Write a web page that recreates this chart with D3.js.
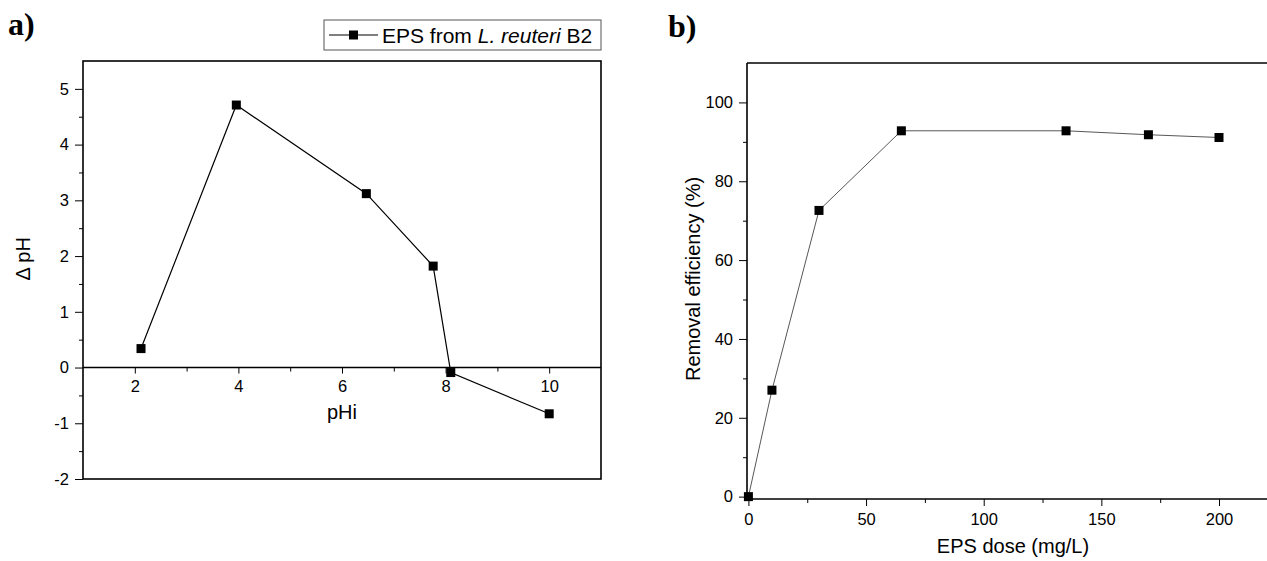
<!DOCTYPE html>
<html>
<head>
<meta charset="utf-8">
<script src="https://d3js.org/d3.v7.min.js"></script>
<title>EPS charts</title>
<style>
body { margin: 0; background: #fff; }
text { font-family: "Liberation Sans", Arial, sans-serif; }
</style>
</head>
<body>
<svg id="canvas" width="1267" height="561"></svg>
<script>
// panel a: initial pH vs delta pH
var phInitial = [2.12, 3.96, 6.47, 7.76, 8.1, 10];
var deltaPh = [0.34, 4.71, 3.12, 1.82, -0.09, -0.83];
var phTicks = [2, 4, 6, 8, 10];
var deltaTicks = [-2, -1, 0, 1, 2, 3, 4, 5];
var legendLabel = ["EPS from ", "L. reuteri", " B2"];

// panel b: dose vs removal efficiency
var epsDose = [0, 10, 30, 65, 135, 170, 200];
var removal = [0, 27, 72.6, 92.8, 92.8, 91.8, 91.1];
var doseTicks = [0, 50, 100, 150, 200];
var removalTicks = [0, 20, 40, 60, 80, 100];

var svg = d3.select("#canvas");
var plain = d => String(d);   // keep a hyphen for negatives like the original

// ---------- panel a ----------
var xa = d3.scaleLinear().domain([1, 11]).range([83, 601]);
var ya = d3.scaleLinear().domain([-2, 5.5]).range([479, 61]);

var ga = svg.append("g");

// minor ticks on y
ga.append("g").attr("transform", "translate(83,0)")
  .call(d3.axisLeft(ya).tickValues(d3.range(-1.5, 5.5, 1)).tickSize(4).tickFormat(""))
  .call(g => g.select(".domain").remove());
// major ticks on y
ga.append("g").attr("transform", "translate(83,0)")
  .call(d3.axisLeft(ya).tickValues(deltaTicks).tickSize(8).tickPadding(6).tickFormat(plain))
  .call(g => g.select(".domain").remove())
  .selectAll("text").style("font-size", "16.5px").attr("fill", "#000");

// x axis on the zero line
ga.append("g").attr("transform", "translate(0," + ya(0) + ")")
  .call(d3.axisBottom(xa).tickValues([3, 5, 7, 9]).tickSize(4).tickFormat(""))
  .call(g => g.select(".domain").remove());
ga.append("g").attr("transform", "translate(0," + ya(0) + ")")
  .call(d3.axisBottom(xa).tickValues(phTicks).tickSize(6).tickPadding(7).tickFormat(plain))
  .call(g => g.select(".domain").attr("d", "M" + xa(1) + ",0H" + xa(11)).attr("stroke-width", 1.5))
  .selectAll("text").style("font-size", "16.5px").attr("fill", "#000");

// frame
ga.append("rect").attr("x", xa(1)).attr("y", ya(5.5))
  .attr("width", xa(11) - xa(1)).attr("height", ya(-2) - ya(5.5))
  .attr("fill", "none").attr("stroke", "#000").attr("stroke-width", 1.6);

var ptsA = phInitial.map((d, i) => [d, deltaPh[i]]);
ga.append("path").datum(ptsA)
  .attr("d", d3.line().x(d => xa(d[0])).y(d => ya(d[1])))
  .attr("fill", "none").attr("stroke", "#000").attr("stroke-width", 1.2);
ga.selectAll("rect.pt").data(ptsA).enter().append("rect").attr("class", "pt")
  .attr("x", d => xa(d[0]) - 4.5).attr("y", d => ya(d[1]) - 4.5)
  .attr("width", 9).attr("height", 9).attr("fill", "#000");

ga.append("text").attr("x", (xa(1) + xa(11)) / 2).attr("y", 419)
  .attr("text-anchor", "middle").style("font-size", "20px").text("pHi");
ga.append("text").attr("transform", "translate(30," + ya(1.95) + ") rotate(-90)")
  .attr("text-anchor", "middle").style("font-size", "20px").text("\u0394 pH");

// legend
var lg = ga.append("g");
lg.append("rect").attr("x", 324).attr("y", 20).attr("width", 277).attr("height", 30)
  .attr("fill", "#fff").attr("stroke", "#555").attr("stroke-width", 1);
lg.append("line").attr("x1", 329).attr("x2", 378).attr("y1", 35).attr("y2", 35)
  .attr("stroke", "#000").attr("stroke-width", 1.2);
lg.append("rect").attr("x", 349).attr("y", 30.5).attr("width", 9).attr("height", 9).attr("fill", "#000");
var lt = lg.append("text").attr("x", 382).attr("y", 42.5).style("font-size", "21px");
lt.append("tspan").text(legendLabel[0]);
lt.append("tspan").style("font-style", "italic").text(legendLabel[1]);
lt.append("tspan").text(legendLabel[2]);

svg.append("text").attr("x", 8).attr("y", 35)
  .style("font-family", "'Liberation Serif', 'Times New Roman', serif")
  .style("font-weight", "bold").style("font-size", "32px").text("a)");

// ---------- panel b ----------
var xb = d3.scaleLinear().domain([-0.6, 220.4]).range([747, 1267]);
var yb = d3.scaleLinear().domain([-0.6, 110]).range([499, 63]);

var gb = svg.append("g");

gb.append("g").attr("transform", "translate(747,0)")
  .call(d3.axisLeft(yb).tickValues(d3.range(10, 110, 20)).tickSize(4).tickFormat(""))
  .call(g => g.select(".domain").remove());
gb.append("g").attr("transform", "translate(747,0)")
  .call(d3.axisLeft(yb).tickValues(removalTicks).tickSize(8).tickPadding(6).tickFormat(plain))
  .call(g => g.select(".domain").attr("d", "M0," + yb(110) + "V" + yb(-0.6)).attr("stroke-width", 1.6))
  .selectAll("text").style("font-size", "16.5px").attr("fill", "#000");

gb.append("g").attr("transform", "translate(0,499)")
  .call(d3.axisBottom(xb).tickValues([25, 75, 125, 175]).tickSize(4).tickFormat(""))
  .call(g => g.select(".domain").remove());
gb.append("g").attr("transform", "translate(0,499)")
  .call(d3.axisBottom(xb).tickValues(doseTicks).tickSize(7).tickPadding(7).tickFormat(plain))
  .call(g => g.select(".domain").attr("d", "M747,0H1267").attr("stroke-width", 1.6))
  .selectAll("text").style("font-size", "16.5px").attr("fill", "#000");

// top frame line
gb.append("line").attr("x1", 747).attr("x2", 1267).attr("y1", yb(110)).attr("y2", yb(110))
  .attr("stroke", "#000").attr("stroke-width", 1.6);

var ptsB = epsDose.map((d, i) => [d, removal[i]]);
gb.append("path").datum(ptsB)
  .attr("d", d3.line().x(d => xb(d[0])).y(d => yb(d[1])))
  .attr("fill", "none").attr("stroke", "#444").attr("stroke-width", 0.9);
gb.selectAll("rect.pt").data(ptsB).enter().append("rect").attr("class", "pt")
  .attr("x", d => xb(d[0]) - 4.5).attr("y", d => yb(d[1]) - 4.5)
  .attr("width", 9).attr("height", 9).attr("fill", "#000");

gb.append("text").attr("x", 1013).attr("y", 553)
  .attr("text-anchor", "middle").style("font-size", "20px").text("EPS dose (mg/L)");
gb.append("text").attr("transform", "translate(700,279) rotate(-90)")
  .attr("text-anchor", "middle").style("font-size", "20px").text("Removal efficiency (%)");

svg.append("text").attr("x", 668).attr("y", 37)
  .style("font-family", "'Liberation Serif', 'Times New Roman', serif")
  .style("font-weight", "bold").style("font-size", "32px").text("b)");
</script>
</body>
</html>
